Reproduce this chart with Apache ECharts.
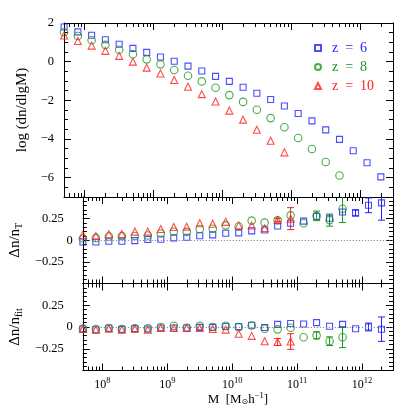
<!DOCTYPE html>
<html>
<head>
<meta charset="utf-8">
<script src="https://cdn.jsdelivr.net/npm/echarts@6/dist/echarts.min.js"></script>
<style>
  html, body { margin: 0; padding: 0; background: #fff; }
  #chart { width: 415px; height: 415px; }
</style>
</head>
<body>
<div id="chart"></div>
<script>
// log10 of halo mass, one entry per bin
const logM = [7.7, 7.9, 8.1, 8.3, 8.5, 8.7, 8.9, 9.1, 9.3, 9.5, 9.7, 9.9,
  10.1, 10.3, 10.5, 10.7, 10.9, 11.1, 11.3, 11.5, 11.7, 11.9, 12.1, 12.3]

// top panel: log(dn/dlgM)
const mf6 = [1.79, 1.54, 1.37, 1.13, 0.90, 0.69, 0.48, 0.24, 0.02, -0.23, -0.48, -0.76,
  -1.02, -1.32, -1.63, -1.96, -2.29, -2.68, -3.06, -3.53, -4.02, -4.61, -5.23, -5.96]
const mf8 = [1.52, 1.33, 1.11, 0.87, 0.62, 0.38, 0.12, -0.14, -0.43, -0.73, -1.02, -1.35,
  -1.73, -2.08, -2.49, -2.92, -3.39, -3.95, -4.52, -5.19, -5.89]
const mf10 = [1.35, 1.07, 0.83, 0.56, 0.30, 0.0, -0.31, -0.61, -0.95, -1.30, -1.68, -2.06,
  -2.53, -3.0, -3.52, -4.09, -4.69]

// middle panel: dn/n_T
const dT6 = [-0.02, -0.02, -0.012, -0.012, -0.004, 0.008, 0.012, 0.027, 0.035, 0.052, 0.062, 0.081,
  0.085, 0.108, 0.119, 0.165, 0.196, 0.221, 0.275, 0.254, 0.327, 0.316, 0.404, 0.432]
const dT8 = [0.02, 0.027, 0.044, 0.048, 0.05, 0.055, 0.078, 0.098, 0.097, 0.13, 0.133, 0.172,
  0.159, 0.227, 0.204, 0.23, 0.288, 0.196, 0.282, 0.233, 0.365]
const dT10 = [0.06, 0.05, 0.069, 0.073, 0.10, 0.10, 0.13, 0.153, 0.157, 0.196, 0.191, 0.213,
  0.172, 0.17, 0.14, 0.235, 0.25]
const eT6 = [0, 0, 0, 0, 0, 0, 0, 0, 0, 0, 0, 0, 0, 0, 0, 0, 0, 0, 0, 0, 0, 0.035, 0.085, 0.2]
const eT8 = [0, 0, 0, 0, 0, 0, 0, 0, 0, 0, 0, 0, 0, 0, 0, 0, 0, 0, 0.055, 0.07, 0.16]
const eT10 = [0, 0, 0, 0, 0, 0, 0, 0, 0, 0, 0, 0, 0, 0, 0, 0.02, 0.127]

// bottom panel: dn/n_fit
const dF6 = [-0.023, -0.031, -0.015, -0.027, -0.019, -0.023, -0.012, -0.012, -0.012, -0.004, -0.004, 0.005,
  0.004, 0.02, -0.005, 0.03, 0.04, 0.035, 0.05, 0.008, 0.03, -0.02, 0, -0.025]
const dF8 = [-0.019, -0.023, -0.012, -0.023, -0.015, -0.015, 0, 0.015, -0.008, 0.015, 0, 0.015,
  0, 0.018, -0.02, -0.027, -0.008, -0.117, -0.096, -0.163, -0.117]
const dF10 = [-0.023, -0.031, -0.019, -0.031, -0.019, -0.031, -0.012, -0.012, -0.012, -0.012, -0.023, -0.03,
  -0.078, -0.102, -0.163, -0.172, -0.167]
const eF6 = [0, 0, 0, 0, 0, 0, 0, 0, 0, 0, 0, 0, 0, 0, 0, 0, 0, 0, 0, 0, 0, 0, 0.045, 0.14]
const eF8 = [0, 0, 0, 0, 0, 0, 0, 0, 0, 0, 0, 0, 0, 0, 0, 0, 0, 0, 0.04, 0.05, 0.12]
const eF10 = [0, 0, 0, 0, 0, 0, 0, 0, 0, 0, 0, 0, 0, 0, 0, 0.04, 0.09]

// tick labels
const xDecades = [8, 9, 10, 11, 12]
const yTopLabels = [-6, -4, -2, 0, 2]
const yResLabels = [-0.25, 0, 0.25]

const names = ['z  =  6', 'z  =  8', 'z  =  10']
const colors = ['#1f1fff', '#1c961c', '#ff1f1f']
const symbols = ['rect', 'circle', 'triangle']
const sizes = [6, 7.5, 7]

const FONT = 'Liberation Serif'
const X_MIN = Math.log10(5e7)
const X_MAX = Math.log10(3e12)

const xMinor = []
for (let d = 7; d <= 12; d++) {
  for (let k = 2; k <= 9; k++) {
    const v = d + Math.log10(k)
    if (v >= X_MIN - 1e-9 && v <= X_MAX + 1e-9) xMinor.push(v)
  }
}
const steps = (lo, hi, step) => {
  const out = []
  for (let v = lo; v <= hi + 1e-9; v += step) out.push(Math.round(v * 1000) / 1000)
  return out
}

const panels = [
  { top: 23, height: 174, min: -7, max: 2, major: [-6, -4, -2, 0, 2], minor: steps(-7, 2, 0.5), labels: yTopLabels },
  { top: 197, height: 86.5, min: -0.5, max: 0.5, major: [-0.25, 0, 0.25], minor: steps(-0.5, 0.5, 0.05), labels: yResLabels },
  { top: 283.5, height: 87, min: -0.5, max: 0.5, major: [-0.25, 0, 0.25], minor: steps(-0.5, 0.5, 0.05), labels: yResLabels }
]

const grid = panels.map(p => ({ left: 64, right: 22, top: p.top, height: p.height }))

const lineBlack = { color: '#000', width: 1 }
const xAxis = []
const yAxis = []
panels.forEach((p, g) => {
  ;['bottom', 'top'].forEach(pos => {
    [true, false].forEach(major => {
      const showLabel = major && g === 2 && pos === 'bottom'
      xAxis.push({
        type: 'value', gridIndex: g, position: pos, min: X_MIN, max: X_MAX,
        axisLine: { show: major, onZero: false, lineStyle: lineBlack },
        axisTick: { inside: true, length: major ? 7 : 4, customValues: major ? xDecades : xMinor, lineStyle: lineBlack },
        axisLabel: {
          show: showLabel, customValues: xDecades, margin: 6, color: '#000',
          formatter: v => '{b|10}{p|' + Math.round(v) + '}',
          rich: {
            b: { fontFamily: FONT, fontSize: 12, color: '#000' },
            p: { fontFamily: FONT, fontSize: 8.5, color: '#000', padding: [0, 0, 7, 0] }
          }
        },
        splitLine: { show: false },
        name: showLabel ? '{a|M  [M}{s|⊙}{a|h}{p|−1}{a|]}' : '',
        nameLocation: 'middle', nameGap: 20,
        nameTextStyle: {
          rich: {
            a: { fontFamily: FONT, fontSize: 13, color: '#000' },
            s: { fontFamily: 'DejaVu Sans', fontSize: 8, color: '#000', padding: [6, 0, 0, 0] },
            p: { fontFamily: FONT, fontSize: 8.5, color: '#000', padding: [0, 0, 7, 0] }
          }
        }
      })
    })
  })
  ;['left', 'right'].forEach(pos => {
    [true, false].forEach(major => {
      const showLabel = major && pos === 'left'
      let name = ''
      if (showLabel) name = g === 0 ? 'log (dn/dlgM)' : g === 1 ? '{a|Δn/n}{s|T}' : '{a|Δn/n}{s|fit}'
      yAxis.push({
        type: 'value', gridIndex: g, position: pos, min: p.min, max: p.max,
        axisLine: { show: major, onZero: false, lineStyle: lineBlack },
        axisTick: { inside: true, length: major ? 7 : 4, customValues: major ? p.major : p.minor, lineStyle: lineBlack },
        axisLabel: {
          show: showLabel, customValues: p.labels, margin: 10,
          formatter: v => {
            if (v === 0) return '{z|0}'
            const s = g === 0 ? String(v) : v.toFixed(2)
            return (g === 0 ? '{z|' : '{d|') + s.replace('-', '−') + '}'
          },
          rich: {
            z: { fontFamily: FONT, fontSize: 12.5, color: '#000' },
            d: { fontFamily: FONT, fontSize: 12.5, color: '#000', padding: [0, 9, 0, 0] }
          }
        },
        splitLine: { show: false },
        name, nameLocation: 'middle', nameRotate: 90, nameGap: g === 0 ? 26 : 42,
        nameTextStyle: {
          fontFamily: FONT, fontSize: 15, color: '#000',
          rich: {
            a: { fontFamily: FONT, fontSize: 15, color: '#000' },
            s: { fontFamily: FONT, fontSize: 10, color: '#000', padding: [7, 0, 0, 0] }
          }
        }
      })
    })
  })
})

function scatter(g, k, ys, withZero) {
  const s = {
    type: 'scatter', name: names[k], xAxisIndex: 4 * g, yAxisIndex: 4 * g,
    data: ys.map((y, i) => [logM[i], y]),
    symbol: symbols[k], symbolSize: sizes[k],
    itemStyle: { color: 'rgba(0,0,0,0)', borderColor: colors[k], borderWidth: 1.1 },
    silent: true, z: 3
  }
  if (withZero) {
    s.markLine = {
      silent: true, symbol: 'none', label: { show: false },
      lineStyle: { color: '#777', type: [1, 2], width: 1 },
      data: [{ yAxis: 0 }]
    }
  }
  return s
}

function errorBars(g, k, ys, errs) {
  const data = []
  ys.forEach((y, i) => { if (errs[i]) data.push([logM[i], y, errs[i]]) })
  const style = { stroke: colors[k], lineWidth: 1 }
  return {
    type: 'custom', xAxisIndex: 4 * g, yAxisIndex: 4 * g, clip: true, silent: true, z: 2,
    data,
    renderItem: (params, api) => {
      const x = api.value(0), y = api.value(1), e = api.value(2)
      const hi = api.coord([x, y + e])
      const lo = api.coord([x, y - e])
      const hw = 3.5
      return {
        type: 'group',
        children: [
          { type: 'line', shape: { x1: hi[0], y1: hi[1], x2: lo[0], y2: lo[1] }, style },
          { type: 'line', shape: { x1: hi[0] - hw, y1: hi[1], x2: hi[0] + hw, y2: hi[1] }, style },
          { type: 'line', shape: { x1: lo[0] - hw, y1: lo[1], x2: lo[0] + hw, y2: lo[1] }, style }
        ]
      }
    }
  }
}

const series = [
  scatter(0, 0, mf6), scatter(0, 1, mf8), scatter(0, 2, mf10),
  scatter(1, 0, dT6, true), scatter(1, 1, dT8), scatter(1, 2, dT10),
  errorBars(1, 0, dT6, eT6), errorBars(1, 1, dT8, eT8), errorBars(1, 2, dT10, eT10),
  scatter(2, 0, dF6, true), scatter(2, 1, dF8), scatter(2, 2, dF10),
  errorBars(2, 0, dF6, eF6), errorBars(2, 1, dF8, eF8), errorBars(2, 2, dF10, eF10)
]

const chart = echarts.init(document.getElementById('chart'), null, { renderer: 'canvas' })
chart.setOption({
  animation: false,
  backgroundColor: '#fff',
  legend: {
    orient: 'vertical', left: 309, top: 35,
    itemWidth: 6, itemHeight: 6, itemGap: 3, selectedMode: false,
    textStyle: { fontFamily: FONT, fontSize: 14, lineHeight: 16, padding: [0, 0, 0, 6] },
    data: names.map((n, k) => ({ name: n, textStyle: { color: colors[k] } }))
  },
  grid, xAxis, yAxis, series
})
window.addEventListener('resize', () => chart.resize())
</script>
</body>
</html>
